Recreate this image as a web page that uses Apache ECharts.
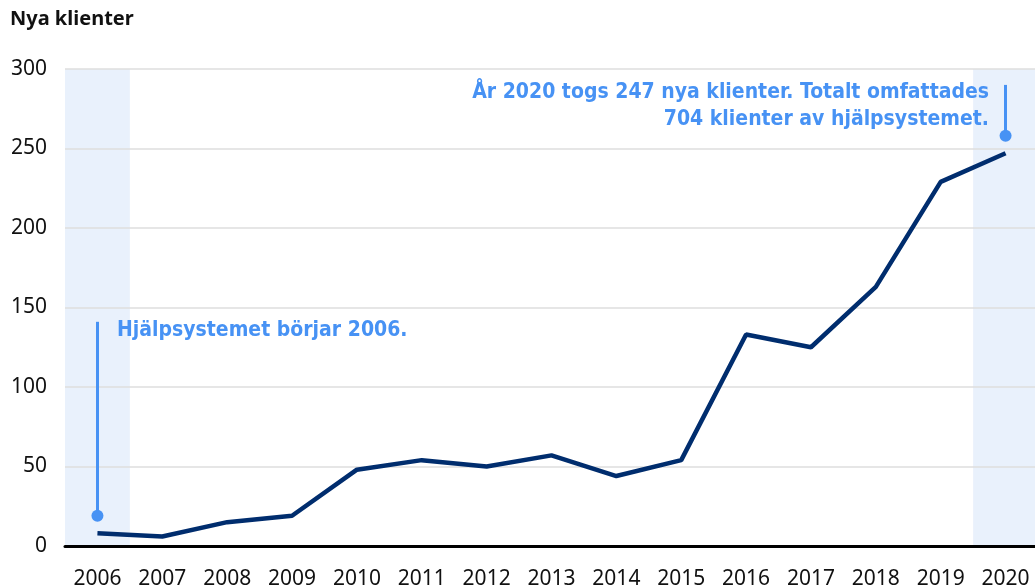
<!DOCTYPE html>
<html>
<head>
<meta charset="utf-8">
<script src="https://cdn.jsdelivr.net/npm/echarts@6/dist/echarts.min.js"></script>
<style>
html, body { margin: 0; padding: 0; background: #fff; }
#chart { width: 1035px; height: 586px; }
</style>
</head>
<body>
<div id="chart"></div>
<script>
const years = ['2006', '2007', '2008', '2009', '2010', '2011', '2012', '2013', '2014', '2015', '2016', '2017', '2018', '2019', '2020']
const newClients = [8, 6, 15, 19, 48, 54, 50, 57, 44, 54, 133, 125, 163, 229, 247]
const yTicks = { min: 0, max: 300, interval: 50 }
const shadedYears = ['2006', '2020']
// annotation stems: [year, from value, to value]
const stems = [['2006', 19, 141], ['2020', 258, 290]]
const noteStart = 'Hjälpsystemet börjar 2006.'
const noteEnd = ['År 2020 togs 247 nya klienter. Totalt omfattades', '704 klienter av hjälpsystemet.']

const blue = '#4792f4'
const navy = '#002d6e'
const labelFont = '"Noto Sans", sans-serif'
const noteFont = '"DejaVu Sans Condensed", "Liberation Sans Narrow", sans-serif'

// light band behind the first and last year, drawn as full-height bars
const bandData = years.map(y => shadedYears.includes(y) ? yTicks.max : '-')

const myChart = echarts.init(document.getElementById('chart'))
const option = {
    animation: false,
    grid: { left: 65, right: -3, top: 69, bottom: 40, containLabel: false, outerBoundsMode: 'none' },
    graphic: [
        {
            type: 'text', left: 10, top: 9, z: 20,
            style: { text: 'Nya klienter', font: 'bold 20px ' + labelFont, fill: '#111' }
        },
        {
            type: 'text', x: 117, y: 320, z: 20,
            style: { text: noteStart, font: 'bold 21px ' + noteFont, fill: blue, verticalAlign: 'top' }
        },
        {
            type: 'text', x: 989, y: 79, z: 20,
            style: { text: noteEnd.join('\n'), font: 'bold 21px ' + noteFont, fill: blue, align: 'right', verticalAlign: 'top', lineHeight: 27 }
        }
    ],
    xAxis: {
        type: 'category',
        data: years,
        boundaryGap: true,
        z: 5,
        axisLine: { lineStyle: { color: '#000', width: 3 } },
        axisTick: { show: false },
        axisLabel: { color: '#111', fontSize: 21, fontFamily: labelFont, margin: 23 }
    },
    yAxis: {
        type: 'value',
        min: yTicks.min,
        max: yTicks.max,
        interval: yTicks.interval,
        z: 2,
        axisLine: { show: false },
        axisTick: { show: false },
        splitLine: { lineStyle: { color: '#dedede', width: 1.5 } },
        axisLabel: { color: '#111', fontSize: 21, fontFamily: labelFont, margin: 18 }
    },
    series: [
        {
            type: 'bar',
            data: bandData,
            barWidth: '100%',
            silent: true,
            itemStyle: { color: '#e9f1fc' },
            z: 1
        },
        {
            type: 'line',
            data: newClients,
            symbol: 'none',
            lineStyle: { color: navy, width: 4.5 },
            z: 3,
            markLine: {
                silent: true,
                symbol: ['circle', 'none'],
                symbolSize: 12,
                label: { show: false },
                lineStyle: { color: blue, width: 3, type: 'solid' },
                data: stems.map(s => [{ coord: [s[0], s[1]] }, { coord: [s[0], s[2]] }])
            }
        }
    ]
}
myChart.setOption(option)
</script>
</body>
</html>
